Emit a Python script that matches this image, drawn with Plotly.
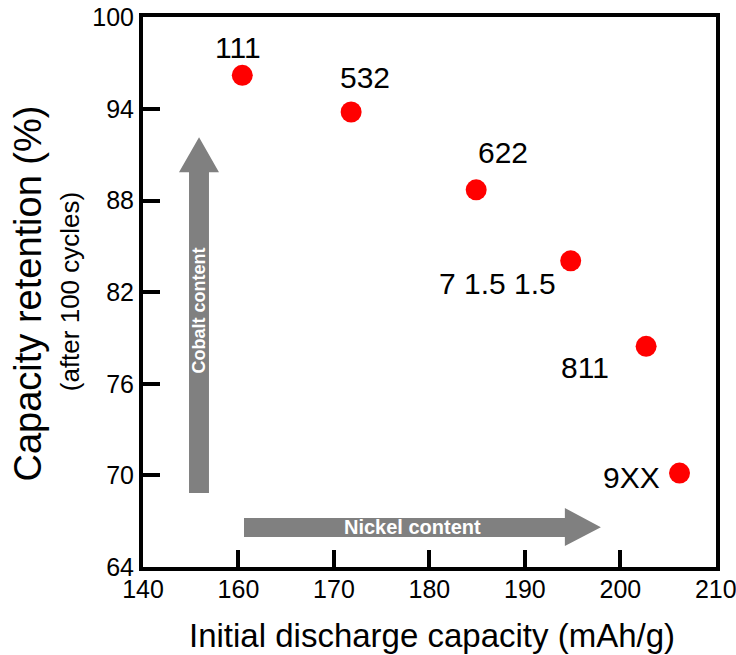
import plotly.graph_objects as go

# Data
compositions = ["111", "532", "622", "7 1.5 1.5", "811", "9XX"]
discharge_capacity = [160.4, 171.8, 184.9, 194.8, 202.7, 206.2]   # mAh/g
capacity_retention = [96.2, 93.8, 88.7, 84.05, 78.45, 70.15]      # %
x_tick_values = [150, 160, 170, 180, 190, 200, 210]
x_tick_labels = ["140", "160", "170", "180", "190", "200", "210"]
y_tick_values = [64, 70, 76, 82, 88, 94, 100]

# label offsets in pixels (x, y-up)
label_shift = [(-4, 28), (14, 34), (27, 37), (-73, -23), (-61, -21), (-48, -4)]

FONT = "Liberation Sans, Arial, sans-serif"

fig = go.Figure()
fig.add_trace(go.Scatter(
    x=discharge_capacity, y=capacity_retention, mode="markers",
    marker=dict(size=21, color="#ff0000", line=dict(width=0)),
    showlegend=False, hoverinfo="x+y"))

annotations = []
for name, x, y, (dx, dy) in zip(compositions, discharge_capacity, capacity_retention, label_shift):
    annotations.append(dict(x=x, y=y, xref="x", yref="y", text=name, showarrow=False,
                            xshift=dx, yshift=dy, font=dict(family=FONT, size=30, color="black")))

# arrows (gray)
gray = "#808080"
fig.add_shape(type="path", xref="x", yref="y", fillcolor=gray, line=dict(width=0),
              path="M 154.82 68.84 L 156.91 68.84 L 156.91 89.85 L 157.96 89.85 L 155.87 92.14 "
                   "L 153.77 89.85 L 154.82 89.85 Z", layer="below")
fig.add_shape(type="path", xref="x", yref="y", fillcolor=gray, line=dict(width=0),
              path="M 160.58 65.96 L 160.58 67.21 L 194.19 67.21 L 194.19 67.86 L 197.96 66.6 "
                   "L 194.19 65.37 L 194.19 65.96 Z", layer="below")

annotations.append(dict(x=155.87, y=80.8, xref="x", yref="y", text="<b>Cobalt content</b>",
                        showarrow=False, textangle=-90,
                        font=dict(family=FONT, size=18, color="white")))
annotations.append(dict(x=178.2, y=66.6, xref="x", yref="y", text="<b>Nickel content</b>",
                        showarrow=False, font=dict(family=FONT, size=20, color="white")))

# axis titles
annotations.append(dict(x=0.504, y=-0.124, xref="paper", yref="paper", xanchor="center", yanchor="middle",
                        text="Initial discharge capacity (mAh/g)", showarrow=False,
                        font=dict(family=FONT, size=33, color="black")))
annotations.append(dict(x=-0.2, y=0.498, xref="paper", yref="paper", xanchor="center", yanchor="middle",
                        text="Capacity retention (%)", showarrow=False, textangle=-90,
                        font=dict(family=FONT, size=38, color="black")))
annotations.append(dict(x=-0.127, y=0.5, xref="paper", yref="paper", xanchor="center", yanchor="middle",
                        text="(after 100 cycles)", showarrow=False, textangle=-90,
                        font=dict(family=FONT, size=26, color="black")))

axis_common = dict(showline=True, linecolor="black", linewidth=4, mirror=True,
                   ticks="inside", ticklen=17, tickwidth=4, tickcolor="black",
                   showgrid=False, zeroline=False, ticklabeloverflow="allow",
                   automargin=False,
                   tickfont=dict(family=FONT, size=25, color="black"))

fig.update_xaxes(range=[150, 210.02], tickvals=x_tick_values, ticktext=x_tick_labels,
                 ticklabelstandoff=-3, **axis_common)
fig.update_yaxes(range=[64, 100.02], tickvals=y_tick_values, **axis_common)

fig.update_layout(width=736, height=655, margin=dict(l=143, r=20, t=17, b=88),
                  plot_bgcolor="white", paper_bgcolor="white",
                  annotations=annotations, font=dict(family=FONT))

# remove the default 8px page margin so the figure fills the window exactly
fig.write_html("out.html", config={"displayModeBar": False},
               post_script="document.body.style.margin='0px';")
